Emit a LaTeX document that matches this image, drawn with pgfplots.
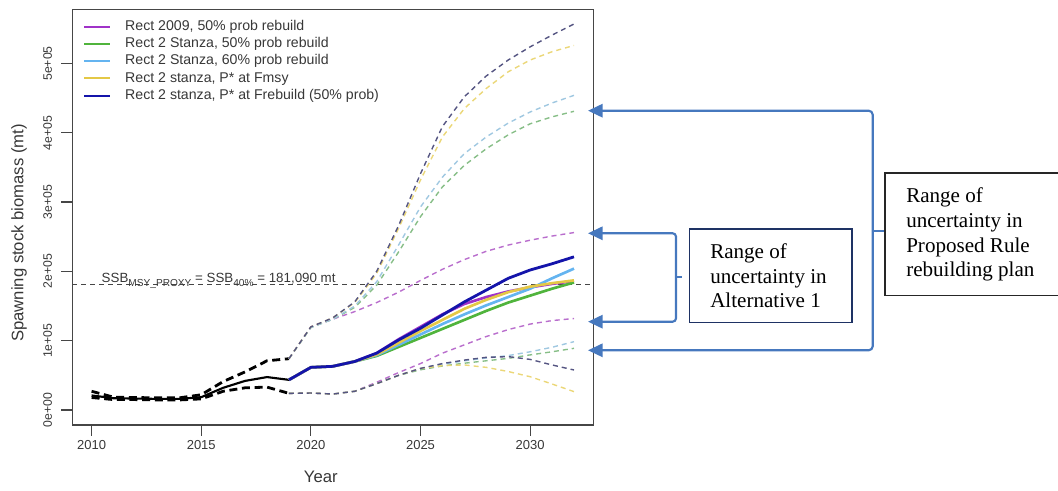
\documentclass[border=0pt]{standalone}
\usepackage{pgfplots}
\pgfplotsset{compat=1.18}
\usepackage{fontspec}
\setmainfont{Liberation Sans}
\newfontfamily\tnr{Liberation Serif}
\usetikzlibrary{arrows.meta}
\definecolor{cpurple}{RGB}{160,50,200}
\definecolor{cgreen}{RGB}{80,180,60}
\definecolor{clblue}{RGB}{100,180,240}
\definecolor{cyellow}{RGB}{228,200,70}
\definecolor{cblue}{RGB}{20,20,170}
\definecolor{dpurple}{RGB}{185,110,205}
\definecolor{dgreen}{RGB}{135,190,135}
\definecolor{dlblue}{RGB}{160,200,225}
\definecolor{dyellow}{RGB}{235,215,120}
\definecolor{dnavy}{RGB}{85,85,130}
\definecolor{axisgray}{RGB}{70,70,70}
\definecolor{txtgray}{RGB}{55,55,55}
\definecolor{brk}{RGB}{70,120,190}
\definecolor{boxone}{RGB}{30,50,100}
\pgfplotsset{
  dsh/.style={dash pattern=on 3.75pt off 3pt, line width=1.05pt, forget plot},
  sol/.style={line width=2pt},
}
\begin{document}
\begin{tikzpicture}
\begin{axis}[
  at={(54.225pt,49.5pt)}, anchor=south west,
  scale only axis, width=390.75pt, height=311.775pt,
  xmin=2009.12, xmax=2032.88, ymin=-21645, ymax=578200,
  axis line style={draw=axisgray, line width=0.9pt},
  xtick={2010,2015,2020,2025,2030}, xticklabels={2010,2015,2020,2025,2030},
  ytick={0,100000,200000,300000,400000,500000},
  yticklabels={0e+00,1e+05,2e+05,3e+05,4e+05,5e+05},
  scaled y ticks=false,
  xtick pos=left, ytick pos=left,
  tick align=outside, major tick length=8.25pt,
  tick style={draw=axisgray, line width=0.9pt},
  xticklabel style={font=\fontsize{9.75}{11}\selectfont, text=txtgray},
  yticklabel style={font=\fontsize{9.2}{10}\selectfont, xshift=-3.5pt, rotate=90, anchor=south, text=txtgray},
  xlabel={Year}, ylabel={Spawning stock biomass (mt)},
  label style={font=\fontsize{12.5}{14}\selectfont, text=txtgray},
  xlabel style={at={(axis description cs:0.477,-0.125)}, anchor=center},
  ylabel style={at={(axis description cs:-0.1023,0.462)}, anchor=center},
  legend cell align=left,
  legend style={at={(0.0205,0.974)}, anchor=north west, draw=none, fill=none,
    font=\fontsize{10.6}{12}\selectfont, text=txtgray, row sep=3.3pt, column sep=10.5pt,
    inner sep=0pt, nodes={inner sep=0pt, text height=7.6pt, text depth=2pt}},
  legend image code/.code={\draw[#1, line width=1.5pt] (0pt,0pt) -- (19.5pt,0pt);},
]
% reference line
\addplot[forget plot, draw=axisgray, dash pattern=on 3.75pt off 3pt, line width=0.9pt] coordinates {(2009.12,181090) (2032.88,181090)};
% historical
\addplot[forget plot, black, dash pattern=on 6pt off 3.5pt, line width=2.1pt] coordinates {
(2010,27000) (2011,18500) (2012,18000) (2013,17500) (2014,17500) (2015,22000) (2016,41000) (2017,55000) (2018,71000) (2019,74000)};
\addplot[forget plot, black, dash pattern=on 6pt off 3.5pt, line width=2.1pt] coordinates {
(2010,18000) (2011,15000) (2012,15000) (2013,14500) (2014,14500) (2015,16000) (2016,27000) (2017,32000) (2018,33000) (2019,24000)};
\addplot[forget plot, black, line width=1.6pt] coordinates {
(2010,21000) (2011,17000) (2012,16500) (2013,16000) (2014,16000) (2015,18500) (2016,32000) (2017,42000) (2018,47500) (2019,43500)};
% dashed bounds: purple
\addplot[dsh, dpurple] coordinates {(2019,74000) (2020,120000) (2021,131000) (2022,142000) (2023,155000) (2024,170000) (2025,187000) (2026,203000) (2027,217000) (2028,229000) (2029,238000) (2030,245000) (2031,251000) (2032,256000)};
\addplot[dsh, dpurple] coordinates {(2019,24000) (2020,24500) (2021,23000) (2022,27000) (2023,40000) (2024,54000) (2025,67000) (2026,82000) (2027,94000) (2028,106000) (2029,116000) (2030,124000) (2031,129000) (2032,132000)};
% green
\addplot[dsh, dgreen] coordinates {(2019,74000) (2020,119000) (2021,131000) (2022,148000) (2023,180000) (2024,228000) (2025,279000) (2026,322000) (2027,353000) (2028,377000) (2029,397000) (2030,413000) (2031,423000) (2032,431000)};
\addplot[dsh, dgreen] coordinates {(2019,24000) (2020,24500) (2021,23000) (2022,27000) (2023,38000) (2024,50000) (2025,58000) (2026,63500) (2027,67500) (2028,71000) (2029,74500) (2030,79500) (2031,84000) (2032,89000)};
% light blue
\addplot[dsh, dlblue] coordinates {(2019,74000) (2020,119000) (2021,131000) (2022,150000) (2023,185000) (2024,238000) (2025,293000) (2026,336000) (2027,370000) (2028,394000) (2029,414000) (2030,430000) (2031,443000) (2032,454000)};
\addplot[dsh, dlblue] coordinates {(2019,24000) (2020,24500) (2021,23000) (2022,27000) (2023,38000) (2024,50000) (2025,60000) (2026,66000) (2027,71000) (2028,75000) (2029,78500) (2030,84000) (2031,90500) (2032,98600)};
% yellow
\addplot[dsh, dyellow] coordinates {(2019,74000) (2020,120000) (2021,133000) (2022,155000) (2023,197000) (2024,262000) (2025,332000) (2026,394000) (2027,435000) (2028,464000) (2029,488000) (2030,505000) (2031,517000) (2032,526000)};
\addplot[dsh, dyellow] coordinates {(2019,24000) (2020,24500) (2021,23000) (2022,27000) (2023,38000) (2024,50000) (2025,60000) (2026,64000) (2027,65000) (2028,61500) (2029,55500) (2030,48000) (2031,37500) (2032,26500)};
% navy
\addplot[dsh, dnavy] coordinates {(2019,74000) (2020,120000) (2021,133000) (2022,156000) (2023,200000) (2024,266000) (2025,341000) (2026,409000) (2027,452000) (2028,482000) (2029,505000) (2030,524000) (2031,541000) (2032,557000)};
\addplot[dsh, dnavy] coordinates {(2019,24000) (2020,24500) (2021,23000) (2022,27000) (2023,38000) (2024,50000) (2025,60000) (2026,67000) (2027,72000) (2028,76000) (2029,77000) (2030,73000) (2031,65000) (2032,57700)};
% solid projections
\addplot[sol, cpurple] coordinates {(2019,43500) (2020,61500) (2021,63000) (2022,70000) (2023,82000) (2024,102000) (2025,120000) (2026,138000) (2027,153000) (2028,163000) (2029,171000) (2030,177000) (2031,182000) (2032,186000)};
\addlegendentry{Rect 2009, 50\% prob rebuild}
\addplot[sol, cgreen] coordinates {(2019,43500) (2020,61500) (2021,63000) (2022,70000) (2023,78000) (2024,91000) (2025,104000) (2026,117000) (2027,130000) (2028,143000) (2029,155000) (2030,165000) (2031,175000) (2032,184000)};
\addlegendentry{Rect 2 Stanza, 50\% prob rebuild}
\addplot[sol, clblue] coordinates {(2019,43500) (2020,61500) (2021,63000) (2022,70000) (2023,79000) (2024,94000) (2025,109000) (2026,124000) (2027,138000) (2028,151000) (2029,163000) (2030,175000) (2031,190000) (2032,204000)};
\addlegendentry{Rect 2 Stanza, 60\% prob rebuild}
\addplot[sol, cyellow] coordinates {(2019,43500) (2020,61500) (2021,63000) (2022,70000) (2023,80000) (2024,97000) (2025,114000) (2026,130000) (2027,146000) (2028,159000) (2029,170000) (2030,178000) (2031,183000) (2032,187000)};
\addlegendentry{Rect 2 stanza, P* at Fmsy}
\addplot[sol, cblue, line width=2.1pt] coordinates {(2019,43500) (2020,61500) (2021,63000) (2022,70000) (2023,82000) (2024,101000) (2025,118000) (2026,137000) (2027,156000) (2028,173000) (2029,190000) (2030,202000) (2031,211000) (2032,221000)};
\addlegendentry{Rect 2 stanza, P* at Frebuild (50\% prob)}
\node[anchor=base west, text=txtgray, font=\fontsize{10}{12}\selectfont, inner sep=0pt] at (axis cs:2010.45,183300)
  {SSB\raisebox{-2.6pt}{\fontsize{7.6}{9}\selectfont MSY\_PROXY} = SSB\raisebox{-2.6pt}{\fontsize{7.6}{9}\selectfont 40\%} = 181,090 mt};
\end{axis}
\begin{scope}[x=0.75pt,y=-0.75pt,shift={(0pt,368.25pt)}]
  \tikzset{brkline/.style={draw=brk, line width=1.6pt}}
  % outer bracket
  \draw[brkline, rounded corners=3pt, {Triangle[length=11pt,width=10pt]}-{Triangle[length=11pt,width=10pt]}]
     (588,110.7) -| (872.7,350.3) -- (588,350.3);
  \draw[brkline] (872.7,230.7) -- (885,230.7);
  % inner bracket
  \draw[brkline, rounded corners=2.5pt, {Triangle[length=11pt,width=10pt]}-{Triangle[length=11pt,width=10pt]}]
     (588,233.3) -| (676,321.7) -- (588,321.7);
  \draw[brkline] (676,277.3) -- (682,277.3);
  % box 1
  \draw[boxone, line width=1.1pt] (689.3,229) rectangle (852,322.3);
  \node[anchor=base west, inner sep=0pt, font=\tnr\fontsize{15.8}{18.6}\selectfont] at (710,258.3) {Range of};
  \node[anchor=base west, inner sep=0pt, font=\tnr\fontsize{15.8}{18.6}\selectfont] at (710,283.1) {uncertainty in};
  \node[anchor=base west, inner sep=0pt, font=\tnr\fontsize{15.8}{18.6}\selectfont] at (710,307.9) {Alternative 1};
  % box 2
  \draw[black!85, line width=1.1pt] (1066,173) -- (885,173) -- (885,295.7) -- (1066,295.7);
  \node[anchor=base west, inner sep=0pt, font=\tnr\fontsize{15.8}{18.6}\selectfont] at (906,202.7) {Range of};
  \node[anchor=base west, inner sep=0pt, font=\tnr\fontsize{15.8}{18.6}\selectfont] at (906,227.5) {uncertainty in};
  \node[anchor=base west, inner sep=0pt, font=\tnr\fontsize{15.8}{18.6}\selectfont] at (906,252.2) {Proposed Rule};
  \node[anchor=base west, inner sep=0pt, font=\tnr\fontsize{15.8}{18.6}\selectfont] at (906,277) {rebuilding plan};
\end{scope}
\pgfresetboundingbox
\path[use as bounding box] (0,0) rectangle (793.5pt,368.25pt);
\end{tikzpicture}
\end{document}
